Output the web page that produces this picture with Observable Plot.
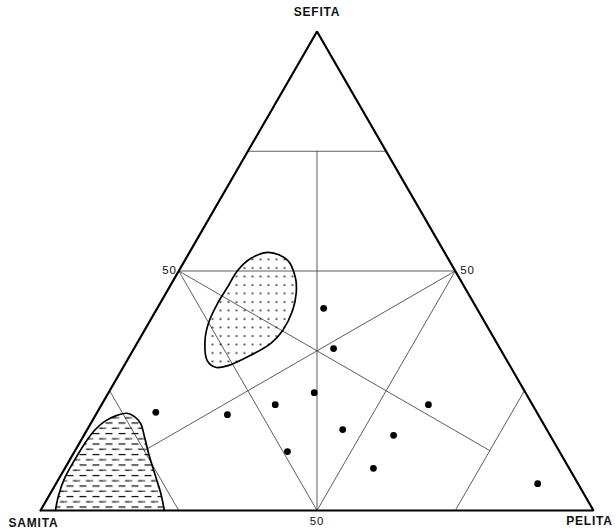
<!DOCTYPE html>
<html>
<head>
<meta charset="utf-8">
<script src="https://cdn.jsdelivr.net/npm/d3@7"></script>
<script src="https://cdn.jsdelivr.net/npm/@observablehq/plot@0.6"></script>
<style>
  html, body { margin: 0; padding: 0; background: #fff; }
  #chart svg { display: block; }
</style>
</head>
<body>
<div id="chart"></div>
<script>
// Ternary components in percent: samita (bottom-left), sefita (top), pelita (bottom-right)
const vertexNames = ["SAMITA", "SEFITA", "PELITA"];

// Sample points
const ptSamita = [27.7, 30.1, 38.2, 46.5, 56.2, 68.9, 18.8, 36.9, 28.3, 49.2, 35.4, 7.3];
const ptSefita = [42.2, 33.8, 24.6, 22.1, 20.0, 20.5, 22.1, 16.9, 15.7, 12.3, 8.8, 5.6];
const ptPelita = [30.1, 36.1, 37.2, 31.4, 23.8, 10.6, 59.1, 46.2, 56.0, 38.5, 55.8, 87.1];

// Dotted field outline (closed)
const dotFieldSamita = [31.8, 29.2, 29.6, 31.0, 33.5, 37.4, 40.9, 45.8, 50.8, 53.4, 54.2, 52.5, 50.0, 46.4, 42.9, 39.3, 35.7];
const dotFieldSefita = [53.9, 52.2, 48.6, 45.5, 41.8, 37.6, 34.9, 32.4, 30.3, 29.9, 31.3, 35.5, 39.2, 43.2, 46.6, 50.1, 52.6];
const dotFieldPelita = [14.3, 18.6, 21.8, 23.5, 24.7, 25.0, 24.2, 21.8, 18.9, 16.7, 14.5, 12.0, 10.8, 10.4, 10.5, 10.6, 11.7];

// Dashed (hatched) field outline, open along the base
const hatchFieldSamita = [97.3, 95.2, 92.3, 88.7, 85.0, 81.9, 79.1, 76.4, 74.2, 73.2, 72.8, 73.5, 74.5, 75.5, 76.4, 77.6];
const hatchFieldSefita = [0.0, 3.1, 6.7, 10.4, 14.0, 16.7, 18.6, 19.8, 20.3, 19.6, 18.2, 15.4, 11.9, 7.7, 3.8, 0.0];
const hatchFieldPelita = [2.7, 1.7, 1.0, 0.9, 1.0, 1.4, 2.3, 3.8, 5.5, 7.2, 9.0, 11.1, 13.6, 16.8, 19.8, 22.4];

// Guide lines: [samita, sefita, pelita] start and end
const guideStart = [[50, 50, 0], [50, 50, 0], [0, 50, 50], [25, 75, 0], [25, 0, 75], [75, 25, 0], [50, 0, 50], [50, 50, 0], [0, 50, 50]];
const guideEnd   = [[0, 50, 50], [50, 0, 50], [50, 0, 50], [0, 75, 25], [0, 25, 75], [75, 0, 25], [12.5, 75, 12.5], [12.5, 12.5, 75], [75, 12.5, 12.5]];

// Tick labels at 50 on each side
const tickLabels = ["50", "50", "50"];
const tickAt = [[50, 50, 0], [0, 50, 50], [50, 0, 50]];

const S3 = Math.sqrt(3) / 2;
const tx = (t) => t[2] + t[1] / 2;
const ty = (t) => t[1] * S3;

const pts = ptSamita.map((s, i) => ({x: tx([s, ptSefita[i], ptPelita[i]]), y: ty([s, ptSefita[i], ptPelita[i]])}));
const dotField = dotFieldSamita.map((s, i) => { const t = [s, dotFieldSefita[i], dotFieldPelita[i]]; return {x: tx(t), y: ty(t)}; });
const hatchField = hatchFieldSamita.map((s, i) => { const t = [s, hatchFieldSefita[i], hatchFieldPelita[i]]; return {x: tx(t), y: ty(t)}; });
const guides = guideStart.map((a, i) => ({x1: tx(a), y1: ty(a), x2: tx(guideEnd[i]), y2: ty(guideEnd[i])}));
const corners = [[100, 0, 0], [0, 100, 0], [0, 0, 100], [100, 0, 0]].map(t => ({x: tx(t), y: ty(t)}));
const ticks = tickAt.map((t, i) => ({x: tx(t), y: ty(t), label: tickLabels[i]}));
const vertexPos = [[100, 0, 0], [0, 100, 0], [0, 0, 100]].map((t, i) => ({x: tx(t), y: ty(t), label: vertexNames[i]}));

const font = "Liberation Sans, Arial, sans-serif";
const nameStyle = {fontSize: 12, fontWeight: "bold", fill: "#111"};
const tickStyle = {fontSize: 11.5, fill: "#111"};

const svg = Plot.plot({
  width: 616,
  height: 529,
  marginLeft: 40,
  marginRight: 23,
  marginTop: 31,
  marginBottom: 19,
  x: {domain: [0, 100], axis: null},
  y: {domain: [0, 100 * S3], axis: null},
  style: {background: "#fff", fontFamily: font},
  marks: [
    Plot.link(guides, {x1: "x1", y1: "y1", x2: "x2", y2: "y2", stroke: "#333", strokeWidth: 0.8}),
    Plot.line(hatchField, {x: "x", y: "y", curve: "catmull-rom", fill: "url(#hatchPat)", stroke: "#000", strokeWidth: 1.7}),
    Plot.line(dotField, {x: "x", y: "y", curve: "catmull-rom-closed", fill: "url(#dotPat)", stroke: "#000", strokeWidth: 1.7}),
    Plot.line(corners, {x: "x", y: "y", stroke: "#000", strokeWidth: 2.2, strokeLinejoin: "miter"}),
    Plot.dot(pts, {x: "x", y: "y", r: 3.4, fill: "#000", stroke: "none"}),
    Plot.text([ticks[0]], {x: "x", y: "y", text: "label", dx: -2, dy: -1, textAnchor: "end", ...tickStyle}),
    Plot.text([ticks[1]], {x: "x", y: "y", text: "label", dx: 5, dy: -1, textAnchor: "start", ...tickStyle}),
    Plot.text([ticks[2]], {x: "x", y: "y", text: "label", dy: 11, ...tickStyle}),
    Plot.text([vertexPos[0]], {x: "x", y: "y", text: "label", dx: -7, dy: 13, ...nameStyle}),
    Plot.text([vertexPos[1]], {x: "x", y: "y", text: "label", dy: -19, ...nameStyle}),
    Plot.text([vertexPos[2]], {x: "x", y: "y", text: "label", dx: -4, dy: 11, ...nameStyle})
  ]
});

d3.select(svg).selectAll("text").attr("letter-spacing", "0.8px");

d3.select(svg).insert("defs", ":first-child").html(`
  <pattern id="dotPat" patternUnits="userSpaceOnUse" width="8" height="8.5">
    <circle cx="4" cy="4" r="0.85" fill="#000"/>
  </pattern>
  <pattern id="hatchPat" patternUnits="userSpaceOnUse" width="13" height="10.5">
    <line x1="1" y1="2.5" x2="8" y2="2.5" stroke="#000" stroke-width="1.2"/>
    <line x1="7.5" y1="7.8" x2="12.5" y2="7.8" stroke="#000" stroke-width="1.2"/>
    <line x1="0" y1="7.8" x2="1.5" y2="7.8" stroke="#000" stroke-width="1.2"/>
  </pattern>
`);

document.getElementById("chart").appendChild(svg);
</script>
</body>
</html>
